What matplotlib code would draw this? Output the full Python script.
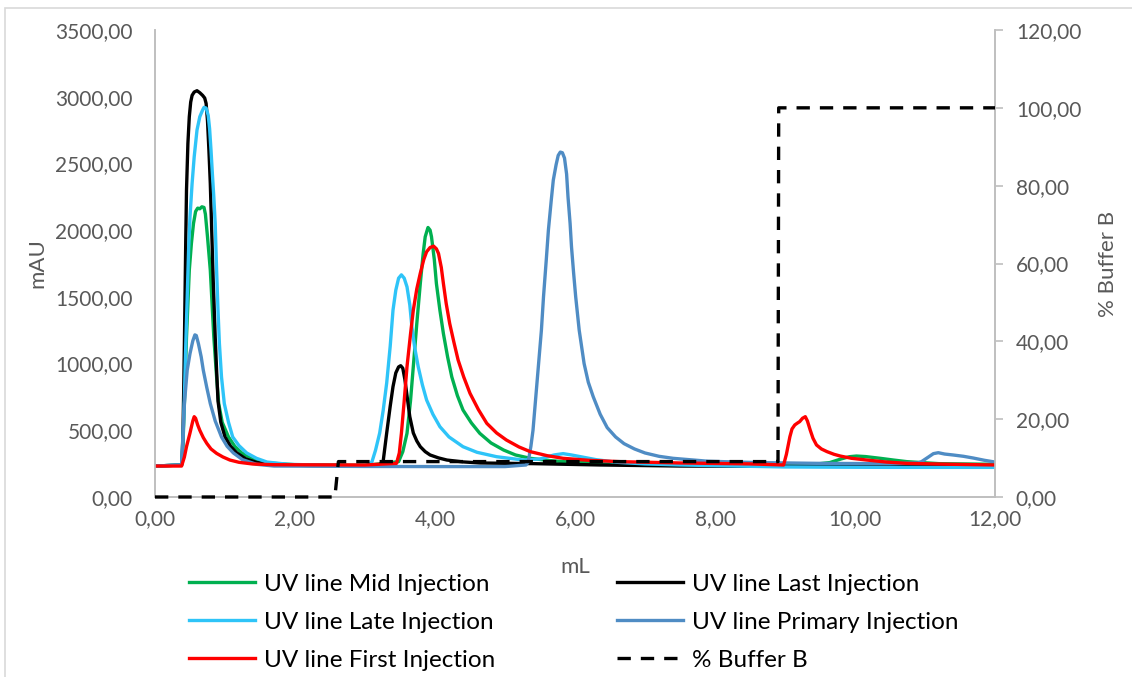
import matplotlib.pyplot as plt
from matplotlib.ticker import FuncFormatter, MultipleLocator
from matplotlib.patches import Rectangle

plt.rcParams['font.family'] = ['Lato', 'DejaVu Sans']

# chromatogram traces, volume in mL and absorbance in mAU
mid_ml = [0, 0.38, 0.40, 0.42, 0.45, 0.49, 0.52, 0.55, 0.58, 0.61, 0.64, 0.67, 0.70, 0.72, 0.75, 0.79, 0.84,
          0.88, 0.91, 0.96, 1.05, 1.14, 1.24, 1.4, 1.6, 2.0, 3.0,
          3.48, 3.54, 3.60, 3.65, 3.69, 3.74, 3.79, 3.83, 3.86, 3.90, 3.93, 3.95, 3.99, 4.02, 4.07, 4.12, 4.18,
          4.24, 4.32, 4.40, 4.52, 4.64, 4.8, 4.98, 5.15, 5.36, 5.6, 5.83, 6.5, 8.0, 9.5,
          9.64, 9.8, 9.92, 10.02, 10.15, 10.36, 10.55, 10.74, 11.2, 12]
mid_mau = [232, 240, 400, 700, 1200, 1700, 1900, 2050, 2140, 2165, 2160, 2175, 2170, 2120, 1950, 1700, 1200,
           900, 700, 560, 450, 380, 330, 280, 255, 242, 236,
           265, 340, 477, 720, 977, 1300, 1600, 1820, 1950, 2020, 2000, 1950, 1780, 1600, 1400, 1225, 1050,
           900, 760, 652, 555, 477, 405, 352, 315, 290, 275, 265, 255, 245, 250,
           258, 285, 302, 307, 303, 290, 277, 265, 250, 245]

last_ml = [0, 0.38, 0.39, 0.40, 0.41, 0.42, 0.43, 0.44, 0.45, 0.47, 0.49, 0.51, 0.53, 0.56, 0.60, 0.64, 0.68,
           0.71, 0.73, 0.75, 0.77, 0.79, 0.81, 0.83, 0.86, 0.88, 0.90, 0.94, 1.0, 1.08, 1.17, 1.3, 1.46, 1.7,
           2.2, 3.1, 3.21, 3.26, 3.31, 3.36, 3.40, 3.44, 3.48, 3.51, 3.54, 3.57, 3.60, 3.64, 3.69, 3.74, 3.79,
           3.86, 3.93, 4.05, 4.17, 4.4, 4.64, 5.4, 6.36, 7.5, 9, 12]
last_mau = [232, 240, 330, 500, 800, 1150, 1550, 1950, 2300, 2650, 2850, 2960, 3010, 3035, 3045, 3030, 3010,
            2990, 2950, 2820, 2600, 2350, 2000, 1650, 1200, 950, 720, 560, 450, 380, 330, 285, 258, 242,
            236, 235, 240, 270, 480, 680, 827, 930, 975, 984, 965, 880, 760, 602, 480, 420, 377,
            340, 315, 293, 277, 263, 255, 250, 240, 232, 230, 228]

late_ml = [0, 0.38, 0.40, 0.42, 0.44, 0.46, 0.48, 0.50, 0.53, 0.56, 0.60, 0.64, 0.68, 0.70, 0.73, 0.76, 0.78,
           0.80, 0.82, 0.84, 0.86, 0.88, 0.90, 0.92, 0.95, 0.99, 1.05, 1.11, 1.2, 1.31, 1.45, 1.6, 1.9, 2.5,
           3.05, 3.10, 3.15, 3.21, 3.26, 3.31, 3.36, 3.40, 3.44, 3.48, 3.52, 3.56, 3.60, 3.64, 3.67, 3.71, 3.76,
           3.82, 3.88, 3.97, 4.07, 4.2, 4.40, 4.6, 4.88, 5.26, 5.5, 5.7, 5.83, 5.95, 6.1, 6.3, 6.6, 7.0, 7.5,
           8.5, 9, 10.5, 12]
late_mau = [232, 240, 450, 750, 1150, 1500, 1850, 2100, 2350, 2550, 2750, 2850, 2900, 2920, 2915, 2860, 2760,
            2600, 2420, 2250, 2050, 1700, 1400, 1150, 900, 700, 560, 450, 385, 330, 290, 262, 245, 237,
            235, 265, 350, 480, 650, 855, 1130, 1400, 1550, 1640, 1665, 1640, 1575, 1440, 1275, 1120, 977,
            840, 727, 620, 527, 450, 377, 335, 302, 277, 285, 315, 325, 315, 300, 280, 260, 248, 240,
            230, 225, 222, 222]

primary_ml = [0, 0.38, 0.40, 0.42, 0.46, 0.50, 0.54, 0.57, 0.59, 0.62, 0.66, 0.69, 0.74, 0.79, 0.86, 0.95,
              1.03, 1.12, 1.25, 1.45, 1.7, 3.0, 4.0, 5.0,
              5.30, 5.33, 5.37, 5.40, 5.44, 5.48, 5.52, 5.55, 5.59, 5.62, 5.66, 5.69, 5.73, 5.76, 5.79, 5.82,
              5.85, 5.88, 5.90, 5.93, 5.95, 5.98, 6.01, 6.06, 6.13, 6.19, 6.26, 6.36, 6.46, 6.58, 6.7, 6.85,
              7.0, 7.2, 7.4, 7.9, 8.6, 9.5, 10.5, 10.9,
              10.95, 11.05, 11.12, 11.19, 11.28, 11.4, 11.55, 11.69, 11.85, 12]
primary_mau = [232, 240, 450, 700, 950, 1075, 1170, 1215, 1210, 1150, 1050, 950, 820, 700, 570, 450,
               380, 330, 280, 245, 232, 229, 228, 228,
               240, 260, 380, 500, 750, 1000, 1250, 1500, 1780, 2000, 2220, 2375, 2490, 2560, 2585, 2580,
               2540, 2420, 2250, 2050, 1875, 1680, 1500, 1250, 1000, 860, 752, 620, 520, 450, 400, 360,
               330, 305, 290, 268, 258, 252, 250, 255,
               265, 300, 325, 332, 322, 315, 305, 292, 275, 262]

first_ml = [0, 0.38, 0.42, 0.45, 0.50, 0.54, 0.56, 0.58, 0.61, 0.64, 0.69, 0.74, 0.80, 0.88, 0.97, 1.07, 1.2,
            1.4, 1.7, 3.0,
            3.45, 3.49, 3.52, 3.56, 3.60, 3.65, 3.69, 3.74, 3.79, 3.84, 3.88, 3.93, 3.98, 4.02, 4.05, 4.09,
            4.12, 4.16, 4.21, 4.27, 4.33, 4.41, 4.50, 4.62, 4.74, 4.88, 5.02, 5.2, 5.36, 5.6, 5.83, 6.2, 6.64,
            7.5, 8.5,
            8.98, 9.02, 9.07, 9.10, 9.14, 9.18, 9.21, 9.25, 9.29, 9.32, 9.36, 9.40, 9.45, 9.52, 9.60, 9.70,
            9.79, 9.95, 10.17, 10.45, 10.74, 11.4, 12]
first_mau = [232, 232, 300, 377, 480, 570, 602, 590, 540, 500, 445, 402, 360, 327, 300, 277, 260,
             247, 242, 240,
             252, 330, 477, 720, 977, 1220, 1400, 1560, 1677, 1780, 1838, 1870, 1880, 1860, 1825, 1720,
             1600, 1450, 1300, 1160, 1027, 900, 777, 655, 552, 480, 427, 375, 340, 310, 290, 275, 265,
             255, 248,
             240, 320, 452, 510, 540, 555, 565, 590, 602, 570, 502, 440, 390, 360, 340, 320,
             307, 290, 277, 262, 252, 245, 240]

# gradient, % buffer B
buffer_ml = [0, 2.57, 2.62, 8.90, 8.91, 12]
buffer_pct = [0, 0, 9.1, 9.1, 100, 100]

grey = '#595959'
axis_grey = '#bfbfbf'

fig = plt.figure(figsize=(11.32, 6.77), dpi=100)
fig.patches.append(Rectangle((5 / 1132, -0.1), 1.2, 1.1 - 8 / 677, transform=fig.transFigure,
                             fill=False, edgecolor='#d9d9d9', lw=1.2))
ax = fig.add_axes([155 / 1132, 1 - 497 / 677, 840 / 1132, 467 / 677])
ax2 = ax.twinx()

lw = 2.4
l_mid, = ax.plot(mid_ml, mid_mau, color='#00b050', lw=lw, label='UV line Mid Injection')
l_last, = ax.plot(last_ml, last_mau, color='#000000', lw=lw, label='UV line Last Injection')
l_late, = ax.plot(late_ml, late_mau, color='#2ec4f8', lw=lw, label='UV line Late Injection')
l_prim, = ax.plot(primary_ml, primary_mau, color='#4f8cc4', lw=lw, label='UV line Primary Injection')
l_first, = ax.plot(first_ml, first_mau, color='#ff0000', lw=lw, label='UV line First Injection')
l_buf, = ax2.plot(buffer_ml, buffer_pct, color='black', lw=2.4, dashes=(4, 3), label='% Buffer B',
                  clip_on=False, zorder=3)

fmt = FuncFormatter(lambda v, p: f'{v:.2f}'.replace('.', ','))

ax.set_xlim(0, 12)
ax.set_ylim(0, 3500)
ax2.set_ylim(0, 120)
ax.xaxis.set_major_locator(MultipleLocator(2))
ax.yaxis.set_major_locator(MultipleLocator(500))
ax2.yaxis.set_major_locator(MultipleLocator(20))
ax.xaxis.set_major_formatter(fmt)
ax.yaxis.set_major_formatter(fmt)
ax2.yaxis.set_major_formatter(fmt)

for a in (ax, ax2):
    for s in a.spines.values():
        s.set_color(axis_grey)
        s.set_linewidth(1.2)
        s.set_zorder(1)
    a.spines['top'].set_visible(False)
ax.tick_params(axis='y', length=0, pad=16, labelsize=15, labelcolor=grey)
ax.tick_params(axis='x', length=0, pad=9, labelsize=15, labelcolor=grey)
ax2.tick_params(axis='y', length=6, width=1.2, color=axis_grey, pad=9, labelsize=15, labelcolor=grey)

ax.set_ylabel('mAU', fontsize=16, color=grey, labelpad=6)
ax2.set_ylabel('% Buffer B', fontsize=16, color=grey, labelpad=12)
ax.set_xlabel('mL', fontsize=16, color=grey, labelpad=20)

handles = [l_mid, l_late, l_first, l_last, l_prim, l_buf]
leg = fig.legend(handles, [h.get_label() for h in handles], ncol=2, loc='upper left',
                 bbox_to_anchor=(167 / 1132, 1 - 552 / 677), frameon=False, fontsize=17.5,
                 handlelength=2.7, handletextpad=0.4, columnspacing=5.0, labelspacing=0.7)

fig.savefig('out.png', dpi=100, facecolor='white')
